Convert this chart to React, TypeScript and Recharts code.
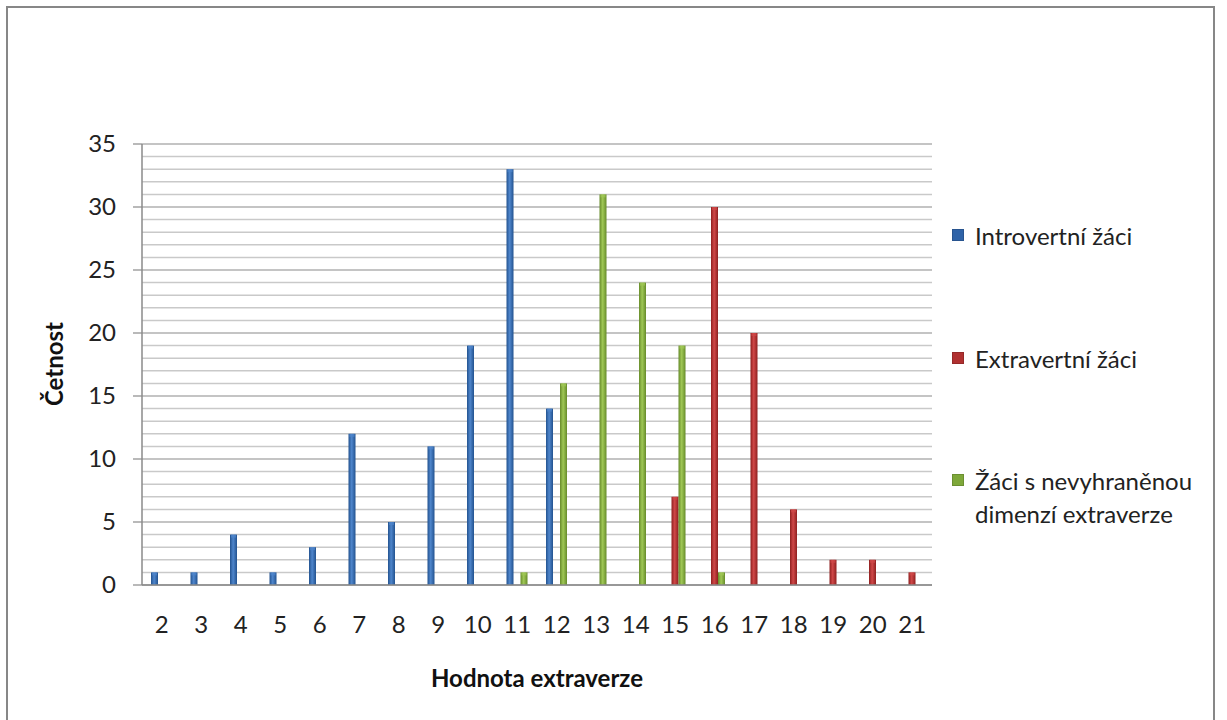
import React from 'react';
import { BarChart, Bar, XAxis, YAxis, CartesianGrid } from 'recharts';

const categories = ['2','3','4','5','6','7','8','9','10','11','12','13','14','15','16','17','18','19','20','21'];
const introvertni = [1,1,4,1,3,12,5,11,19,33,14,0,0,0,0,0,0,0,0,0];
const extravertni = [0,0,0,0,0,0,0,0,0,0,0,0,0,7,30,20,6,2,2,1];
const nevyhranene = [0,0,0,0,0,0,0,0,0,1,16,31,24,19,1,0,0,0,0,0];
const yTickLabels = [0,5,10,15,20,25,30,35];
const allTicks = [0,1,2,3,4,5,6,7,8,9,10,11,12,13,14,15,16,17,18,19,20,21,22,23,24,25,26,27,28,29,30,31,32,33,34,35];

const seriesNames = ['Introvertní žáci', 'Extravertní žáci', 'Žáci s nevyhraněnou dimenzí extraverze'];

const data = categories.map((c, i) => ({
  cat: c,
  intro: introvertni[i],
  extra: extravertni[i],
  nevy: nevyhranene[i],
}));

const FONT = 'Lato, "Open Sans", sans-serif';

const grads = [
  { id: 'gBlue', edge: '#22528f', mid: '#4f86cc', base: '#2f63a8' },
  { id: 'gRed', edge: '#8e1f1f', mid: '#d04848', base: '#b03030' },
  { id: 'gGreen', edge: '#668b2a', mid: '#a0c856', base: '#7ea83a' },
];

const makeShape = (g: typeof grads[number]) => (props: any) => {
  const { x, y, width, height } = props;
  if (!height || height <= 0) return <g />;
  return (
    <g>
      <rect x={x} y={y} width={width} height={height} fill={`url(#${g.id})`} />
      <rect x={x + 1} y={y} width={Math.max(width - 2, 1)} height={Math.min(3, height)} fill={g.mid} opacity={0.7} />
    </g>
  );
};

const legendColors = ['#2f63a8', '#b03030', '#7ea83a'];

function LegendBox() {
  const items = [
    { top: 219, lines: [seriesNames[0]] },
    { top: 342, lines: [seriesNames[1]] },
    { top: 464, lines: ['Žáci s nevyhraněnou', 'dimenzí extraverze'] },
  ];
  return (
    <>
      {items.map((it, i) => (
        <div key={i} style={{ position: 'absolute', left: 952, top: it.top, fontFamily: FONT, fontSize: 24, lineHeight: '33px', color: '#222' }}>
          <div style={{ position: 'absolute', left: 0, top: 10, width: 12, height: 12, background: legendColors[i], boxShadow: 'inset 0 0 0 1px rgba(0,0,0,0.15)' }} />
          <div style={{ marginLeft: 23, whiteSpace: 'nowrap' }}>
            {it.lines.map((l, j) => <div key={j}>{l}</div>)}
          </div>
        </div>
      ))}
    </>
  );
}

const TICK_SIZE = 9;
const TICK_MARGIN = 17;

const YTick = (p: any) => {
  const { x, y, payload } = p;
  const v = Number(payload && payload.value);
  if (!yTickLabels.includes(v)) return <g />;
  return (
    <g>
      <line x1={x + TICK_MARGIN} x2={x + TICK_MARGIN + TICK_SIZE} y1={y} y2={y} stroke="#8a8a8a" strokeWidth={1.2} />
      <text x={x} y={y} dy="0.35em" textAnchor="end" fontFamily={FONT} fontSize={24} fill="#222">{v}</text>
    </g>
  );
};

const gridLine = (p: any) => {
  const { x1, y1, x2, y2, index } = p;
  const major = index % 5 === 0;
  return (
    <line
      key={'g' + index}
      x1={x1}
      y1={y1}
      x2={x2}
      y2={y2}
      stroke={major ? '#8a8a8a' : '#c9c9c9'}
      strokeWidth={major ? 1.2 : 1.5}
    />
  );
};

export default function App() {
  return (
    <div style={{ position: 'absolute', left: 0, top: 0, width: 1227, height: 720, background: '#fff', overflow: 'hidden' }}>
      <div style={{ position: 'absolute', left: 6, top: 6, width: 1209, height: 720, border: '2px solid #878787', boxSizing: 'border-box' }} />
      <div style={{ position: 'absolute', left: 0, top: 0 }}>
        <BarChart
          width={1227}
          height={720}
          data={data}
          margin={{ top: 144, right: 295, bottom: 75, left: 82 }}
          barSize={7}
          barGap={0}
        >
          <defs>
            {grads.map((g) => (
              <linearGradient key={g.id} id={g.id} x1="0" y1="0" x2="1" y2="0">
                <stop offset="0%" stopColor={g.edge} />
                <stop offset="45%" stopColor={g.mid} />
                <stop offset="100%" stopColor={g.edge} />
              </linearGradient>
            ))}
          </defs>
          <CartesianGrid vertical={false} horizontal={gridLine} />
          <XAxis
            dataKey="cat"
            height={60}
            tickLine={false}
            axisLine={{ stroke: '#8a8a8a', strokeWidth: 1.5 }}
            tick={{ fontFamily: FONT, fontSize: 24, fill: '#222' }}
            tickMargin={25}
            interval={0}
            label={{
              content: () => (
                <text x={537} y={687} textAnchor="middle" fontFamily={FONT} fontWeight="bold" fontSize={24} fill="#111">
                  Hodnota extraverze
                </text>
              ),
            }}
          />
          <YAxis
            width={60}
            domain={[0, 35]}
            ticks={allTicks}
            interval={0}
            tickSize={TICK_SIZE}
            tickMargin={TICK_MARGIN}
            tickLine={false}
            axisLine={{ stroke: '#8a8a8a', strokeWidth: 1.5 }}
            tick={<YTick />}
            label={{
              content: () => (
                <text x={0} y={0} transform="translate(63,364) rotate(-90)" textAnchor="middle" fontFamily={FONT} fontWeight="bold" fontSize={24} fill="#111">
                  Četnost
                </text>
              ),
            }}
          />
          <Bar dataKey="intro" name={seriesNames[0]} fill="#2f63a8" shape={makeShape(grads[0])} isAnimationActive={false} />
          <Bar dataKey="extra" name={seriesNames[1]} fill="#b03030" shape={makeShape(grads[1])} isAnimationActive={false} />
          <Bar dataKey="nevy" name={seriesNames[2]} fill="#7ea83a" shape={makeShape(grads[2])} isAnimationActive={false} />
        </BarChart>
      </div>
      <LegendBox />
    </div>
  );
}
